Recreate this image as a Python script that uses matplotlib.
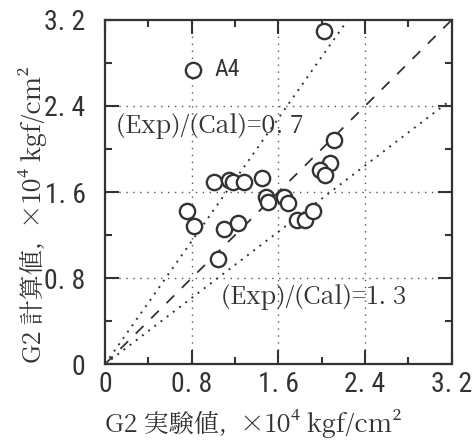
import matplotlib
matplotlib.use("Agg")
import matplotlib.pyplot as plt
import numpy as np

plt.rcParams['font.family'] = ['IPAMincho', 'Noto Sans CJK JP', 'DejaVu Sans']

exp_vals = [2.02, 0.815, 2.11, 2.08, 1.985, 2.03, 1.01, 1.14, 1.185, 1.28, 1.45,
            1.49, 1.50, 1.65, 1.69, 1.77, 1.85, 1.92, 0.76, 0.825, 1.10, 1.23, 1.04]
cal_vals = [3.10, 2.735, 2.08, 1.87, 1.805, 1.76, 1.69, 1.71, 1.69, 1.69, 1.73,
            1.555, 1.51, 1.55, 1.495, 1.34, 1.34, 1.42, 1.42, 1.28, 1.26, 1.31, 0.98]
label_point = "A4"
ratios = [0.7, 1.3]
ticks = [0, 0.8, 1.6, 2.4, 3.2]
tick_labels = ["0", "0. 8", "1. 6", "2. 4", "3. 2"]
minor_ticks = [0.4, 1.2, 2.0, 2.8]
xlabel = "G2 実験値,  ×10⁴ kgf/cm²"
ylabel = "G2 計算値,  ×10⁴ kgf/cm²"

ink = '#333333'
mincho = ['IPAMincho', 'Noto Serif CJK JP', 'DejaVu Serif']
tickfont = ['Roboto Condensed', 'DejaVu Sans']

fig = plt.figure(figsize=(4.76, 4.43), dpi=100)
ax = fig.add_axes([0.2206, 0.178, 0.7284, 0.777])
ax.set_xlim(0, 3.2)
ax.set_ylim(0, 3.2)

# grid
for t in ticks[1:-1]:
    ax.axvline(t, color='#555555', lw=1.0, ls=(0, (1, 4)), zorder=1)
    ax.axhline(t, color='#555555', lw=1.0, ls=(0, (1, 4)), zorder=1)

# reference lines
xs = np.array([0, 3.2])
ax.plot(xs, xs, color=ink, lw=1.3, ls=(0, (6, 6)), zorder=2)
for r in ratios:
    ax.plot(xs, xs / r, color=ink, lw=1.4, ls=(0, (1, 3)), zorder=2)

ax.plot(exp_vals, cal_vals, 'o', ms=11, mfc='white', mec=ink, mew=1.7, zorder=3)

ax.text(1.01, 2.735, label_point, fontsize=17, family=['Roboto Condensed', 'DejaVu Sans'],
        va='center', ha='left', color=ink)
ax.text(0.1, 2.21, "(Exp)/(Cal)=0. 7", fontsize=18, family=mincho, va='center', ha='left', color=ink)
ax.text(1.07, 0.62, "(Exp)/(Cal)=1. 3", fontsize=18, family=mincho, va='center', ha='left', color=ink)

ax.set_xticks(ticks)
ax.set_yticks(ticks)
ax.set_xticks(minor_ticks, minor=True)
ax.set_yticks(minor_ticks, minor=True)
ax.set_xticklabels(tick_labels, fontsize=20, family=tickfont, color=ink)
ax.set_yticklabels(tick_labels, fontsize=20, family=tickfont, color=ink)
ax.tick_params(which='both', direction='in', top=True, right=True, color=ink, width=1.5)
ax.tick_params(which='major', length=10)
ax.tick_params(axis='x', which='major', pad=5)
ax.tick_params(axis='y', which='major', pad=14)
ax.tick_params(which='minor', length=5)
for s in ax.spines.values():
    s.set_linewidth(1.6)
    s.set_color(ink)

fig.text(105 / 476, 1 - 424 / 443, xlabel, fontsize=18, family=mincho, color=ink,
         ha='left', va='center')
fig.text(33 / 476, 1 - 363 / 443, ylabel, fontsize=18, family=mincho, color=ink,
         ha='center', va='bottom', rotation=90)

fig.savefig("out.png", dpi=100)
